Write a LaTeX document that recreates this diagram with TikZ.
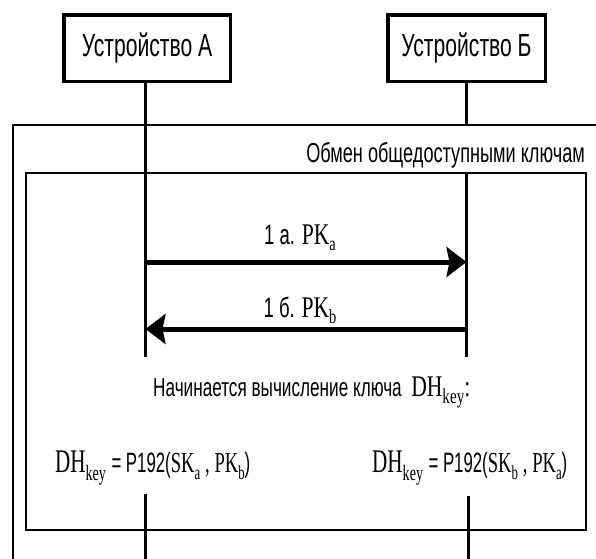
\documentclass[tikz,border=0pt]{standalone}
\usepackage{fontspec}
\setmainfont{Liberation Sans}
\newfontfamily\nsans[FakeStretch=0.66]{Liberation Sans}
\newfontfamily\nserif[FakeStretch=0.72]{Liberation Serif}
\newfontfamily\fsans[FakeStretch=0.6]{Liberation Sans}
\newfontfamily\fserif[FakeStretch=0.64]{Liberation Serif}
\usetikzlibrary{arrows.meta}
\newcommand\fs[1]{\fontsize{#1}{#1}\selectfont}
\newcommand\lowsub[3]{\raisebox{-#1}{\fs{#2}#3}}
\begin{document}
\begin{tikzpicture}[x=1pt,y=-1pt,
  devbox/.style={draw,line width=3.5pt,inner sep=0pt,font=\nsans\fs{32}},
  frame/.style={line width=2.5pt},
  life/.style={line width=3pt},
  msg/.style={line width=5pt,-{Stealth[length=20pt,width=30pt,inset=3pt]}},
  lbl/.style={inner sep=0pt,anchor=base},
]
\useasboundingbox (0,0) rectangle (596,558);
\clip (0,0) rectangle (596,558);
\fill[white] (0,0) rectangle (596,558);

% frames
\draw[frame] (13,125) rectangle (620,600);
\draw[frame] (26,173) rectangle (586,530);
\node[lbl,anchor=base east,font=\nsans\fs{27.5}] (title) at (585,162) {Обмен общедоступными ключам};

% device boxes
\node[devbox,minimum width=166.5pt,minimum height=66.5pt] (devA) at (147,48) {Устройство А};
\node[devbox,minimum width=157.5pt,minimum height=66.5pt] (devB) at (466.5,48) {Устройство Б};

% lifeline coordinates
\coordinate (aEnd) at (145.5,357);
\coordinate (bEnd) at (466.5,357);
\coordinate (bGap1) at (466.5,125);
\coordinate (bGap2) at (466.5,173);
\coordinate (aLow) at (145.5,494);
\coordinate (bLow) at (468.5,496);
\coordinate (aBot) at (145.5,560);
\coordinate (bBot) at (468.5,560);
\coordinate (a1) at (145.5,262);
\coordinate (b1) at (466.5,262);
\coordinate (a2) at (145.5,329);
\coordinate (b2) at (466.5,329);

\draw[life] (devA.south -| aEnd) -- (aEnd);
\draw[life] (devB.south -| bEnd) -- (bGap1);
\draw[life] (bGap2) -- (bEnd);
\draw[life] (aLow) -- (aBot);
\draw[life] (bLow) -- (bBot);

% messages
\draw[msg] (a1) -- (b1);
\draw[msg] (b2) -- (a2);
\node[lbl] (m1) at (300,244) {\nsans\fs{28}1 а. \nserif\fs{30}PK\lowsub{6pt}{20}{a}};
\node[lbl] (m2) at (300,317) {\nsans\fs{28}1 б. \nserif\fs{30}PK\lowsub{6pt}{20}{b}};

% computation
\node[lbl,anchor=base west] (start) at (153,396) {\nsans\fs{26}Начинается вычисление ключа \ \nserif\fs{30}DH\lowsub{7pt}{21}{key}:};

\node[lbl,anchor=base west] (fA) at (55,472) {\fserif\fs{33}DH\lowsub{8pt}{22}{key}\,\fsans\fs{28}= P192(\fserif\fs{29}SK\lowsub{7pt}{20}{a}\,,\,PK\lowsub{7pt}{20}{b}\fsans\fs{28})};
\node[lbl,anchor=base west] (fB) at (372,472) {\fserif\fs{33}DH\lowsub{8pt}{22}{key}\,\fsans\fs{28}= P192(\fserif\fs{29}SK\lowsub{7pt}{20}{b}\,,\,PK\lowsub{7pt}{20}{a}\fsans\fs{28})};
\end{tikzpicture}
\end{document}
